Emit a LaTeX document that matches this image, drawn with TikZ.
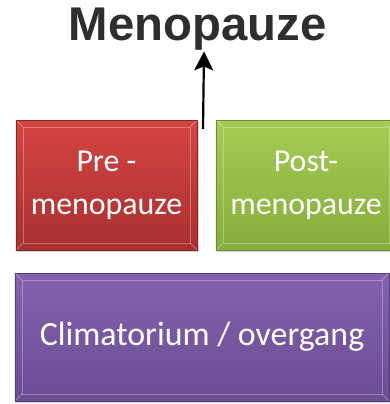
\documentclass[tikz,border=0pt]{standalone}
\usepackage{fontspec}
\setmainfont{Carlito}
\newfontfamily\titlefont{Liberation Sans}
\usetikzlibrary{arrows.meta,shadows}

\definecolor{redtop}{HTML}{D44543}
\definecolor{redbot}{HTML}{A8302F}
\definecolor{greentop}{HTML}{A6CC55}
\definecolor{greenbot}{HTML}{86AC3C}
\definecolor{purpletop}{HTML}{8462AE}
\definecolor{purplebot}{HTML}{6C4C94}
\definecolor{titlegray}{HTML}{2E2E2E}

\tikzset{
  phasebox/.style={rectangle,text=white,align=center,
    font=\fontsize{32}{43}\selectfont,
    drop shadow={opacity=0.35,shadow xshift=1.5bp,shadow yshift=-2bp},
    path picture={
      \draw[white,opacity=0.3,line width=0.8bp]
        ([shift={(7bp,-7bp)}]path picture bounding box.north west) rectangle
        ([shift={(-7bp,7bp)}]path picture bounding box.south east);
      \draw[white,opacity=0.3,line width=0.8bp]
        (path picture bounding box.north west) -- ++(7bp,-7bp)
        (path picture bounding box.north east) -- ++(-7bp,-7bp)
        (path picture bounding box.south west) -- ++(7bp,7bp)
        (path picture bounding box.south east) -- ++(-7bp,7bp);
    }},
  redbox/.style={phasebox,top color=redtop,bottom color=redbot,draw=redbot!80!black},
  greenbox/.style={phasebox,top color=greentop,bottom color=greenbot,draw=greenbot!80!black},
  purplebox/.style={phasebox,top color=purpletop,bottom color=purplebot,draw=purplebot!80!black}
}

\begin{document}
\begin{tikzpicture}[x=1bp,y=-1bp]

\useasboundingbox (0,0) rectangle (390,404);
\clip (0,0) rectangle (390,404);

% title
\node[font=\titlefont\bfseries\fontsize{47.5}{50}\selectfont,text=titlegray,inner sep=0pt]
  (title) at (197.5,29) {Menopauze};

% phases
\node[redbox,minimum width=181bp,minimum height=130bp] (pre) at (106.5,185)
  {Pre -\\menopauze};
\node[greenbox,minimum width=180bp,minimum height=130bp] (post) at (306,185)
  {Post-\\menopauze};
\node[purplebox,minimum width=374bp,minimum height=128bp,
  font=\fontsize{34}{40}\selectfont] (clim) at (202,337)
  {Climatorium / overgang};

% arrow to title
\coordinate (start) at (203,129);
\draw[line width=2.2bp,-{Stealth[length=19bp,width=19bp,inset=4bp]}]
  (start) -- ([xshift=6.5bp,yshift=-1bp]title.south);

\end{tikzpicture}
\end{document}
